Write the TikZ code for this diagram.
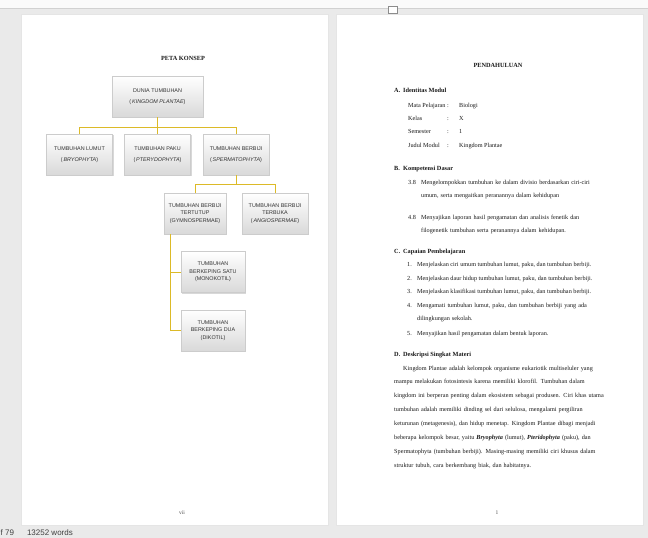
\documentclass[tikz,border=0pt]{standalone}
\usepackage{fontspec}
\setmainfont{Liberation Serif}
\newfontfamily\boxfont{Liberation Sans}
\usepackage{tikz}
\usetikzlibrary{positioning}
\usetikzlibrary{shadows}
\definecolor{linegold}{RGB}{220,186,40}
\definecolor{winbg}{RGB}{234,234,234}
\definecolor{boxtext}{RGB}{50,50,50}
\tikzstyle{konsep} = [rectangle, text centered, align=center, minimum width=66pt, minimum height=41pt, inner sep=1pt, draw=black!20, top color=white, bottom color=black!15, drop shadow={shadow xshift=1pt, shadow yshift=-1.2pt, opacity=0.3}, text=boxtext, font=\boxfont\fontsize{5.4}{7.5}\selectfont]
\tikzstyle{konsep_lebar} = [konsep, minimum width=91pt]
\tikzstyle{link} = [draw=linegold, line width=0.9pt]
\tikzstyle{teks} = [anchor=base west, inner sep=0pt, text=black!90, font=\fontsize{6.2}{13.9}\selectfont]
\tikzstyle{judul} = [anchor=base, inner sep=0pt, text=black!90, font=\bfseries\fontsize{6.3}{7}\selectfont]
\newcommand{\baris}[2][206pt]{\makebox[#1][s]{#2}}

\begin{document}
\begin{tikzpicture}[x=1pt, y=-1pt]
    \useasboundingbox (0,0) rectangle (648,538);
    \fill[winbg] (0,0) rectangle (648,538);
    \fill[black!2] (0,0) rectangle (648,8);
    \draw[black!18] (0,8) -- (648,8);
    \fill[white, draw=black!10] (21,14) rectangle (328,525);
    \fill[white, draw=black!10] (336,14) rectangle (643,525);
    \draw[black!45, fill=white] (388,6) rectangle (397,13);

    \node (peta) [judul] at (183,60) {PETA KONSEP};
    \node (dunia) [konsep_lebar] at (157.5,96.5) {DUNIA TUMBUHAN\\[3pt](\,\textit{KINGDOM PLANTAE})};
    \node (lumut) [konsep] at (79.5,154.5) {TUMBUHAN LUMUT\\[3pt](\,\textit{BRYOPHYTA})};
    \node (paku) [konsep] at (157.5,154.5) {TUMBUHAN PAKU\\[3pt](\,\textit{PTERYDOPHYTA})};
    \node (berbiji) [konsep] at (236,154.5) {TUMBUHAN BERBIJI\\[3pt](\,\textit{SPERMATOPHYTA})};
    \node (tertutup) [konsep, minimum width=62pt] at (195,213.5) {TUMBUHAN BERBIJI\\TERTUTUP\\(GYMNOSPERMAE)};
    \node (terbuka) [konsep] at (275,213.5) {TUMBUHAN BERBIJI\\TERBUKA\\(\,\textit{ANGIOSPERMAE})};
    \node (monokotil) [konsep, minimum width=64pt] at (213,272) {TUMBUHAN\\BERKEPING SATU\\(MONOKOTIL)};
    \node (dikotil) [konsep, minimum width=64pt] at (213,330.5) {TUMBUHAN\\BERKEPING DUA\\(DIKOTIL)};
    \draw[link] (dunia.south) -- ++(0,10) -| (lumut.north);
    \draw[link] (dunia.south) -- (paku.north);
    \draw[link] (dunia.south) -- ++(0,10) -| (berbiji.north);
    \draw[link] (berbiji.south) -- ++(0,9) -| (tertutup.north);
    \draw[link] (berbiji.south) -- ++(0,9) -| (terbuka.north);
    \draw[link] ([xshift=7pt]tertutup.south west) |- (monokotil.west);
    \draw[link] ([xshift=7pt]tertutup.south west) |- (dikotil.west);
    \node (vii) [anchor=base, inner sep=0pt, text=black!70, font=\fontsize{5.5}{6}\selectfont] at (182,514) {vii};

    \node (pendahuluan) [judul] at (498,67) {PENDAHULUAN};
    \node (identitas) [teks, font=\bfseries\fontsize{6.3}{7}\selectfont] at (394,92) {\makebox[9pt][l]{A.}Identitas Modul};
    \node (modul) [teks] at (408,107) {\fontsize{6.2}{13.4}\selectfont\begin{tabular}[t]{@{}p{39pt}@{}p{12pt}@{}l@{}}
        Mata Pelajaran & : & Biologi\\
        Kelas & : & X\\
        Semester & : & 1\\
        Judul Modul & : & Kingdom Plantae
    \end{tabular}};
    \node (kompetensi) [teks, font=\bfseries\fontsize{6.3}{7}\selectfont] at (394,170) {\makebox[9pt][l]{B.}Kompetensi Dasar};
    \node (kd38n) [teks] at (408,184) {3.8};
    \node (kd38) [teks, text width=182pt, align=left] at (421,184) {\baris[182pt]{Mengelompokkan tumbuhan ke dalam divisio berdasarkan ciri-ciri}\\umum, serta mengaitkan peranannya dalam kehidupan};
    \node (kd48n) [teks] at (408,219) {4.8};
    \node (kd48) [teks, text width=182pt, align=left] at (421,219) {\baris[182pt]{Menyajikan laporan hasil pengamatan dan analisis fenetik dan}\\filogenetik tumbuhan serta peranannya dalam kehidupan.};
    \node (capaian) [teks, font=\bfseries\fontsize{6.3}{7}\selectfont] at (394,253) {\makebox[9pt][l]{C.}Capaian Pembelajaran};
    \node (cp1n) [teks] at (407,266) {1.};
    \node (cp1) [teks] at (417,266) {Menjelaskan ciri umum tumbuhan lumut, paku, dan tumbuhan berbiji.};
    \node (cp2n) [teks] at (407,280) {2.};
    \node (cp2) [teks] at (417,280) {Menjelaskan daur hidup tumbuhan lumut, paku, dan tumbuhan berbiji.};
    \node (cp3n) [teks] at (407,293.5) {3.};
    \node (cp3) [teks] at (417,293.5) {Menjelaskan klasifikasi tumbuhan lumut, paku, dan tumbuhan berbiji.};
    \node (cp4n) [teks] at (407,307) {4.};
    \node (cp4) [teks, text width=183pt, align=left] at (417,307) {\fontsize{6.2}{13.5}\selectfont\baris[183pt]{Mengamati tumbuhan lumut, paku, dan tumbuhan berbiji yang ada}\\dilingkungan sekolah.};
    \node (cp5n) [teks] at (407,335) {5.};
    \node (cp5) [teks] at (417,335) {Menyajikan hasil pengamatan dalam bentuk laporan.};
    \node (deskripsi) [teks, font=\bfseries\fontsize{6.3}{7}\selectfont] at (394,356) {\makebox[9pt][l]{D.}Deskripsi Singkat Materi};
    \node (materi) [teks, text width=206pt, align=left] at (394,370) {\hspace*{9pt}\baris[197pt]{Kingdom Plantae adalah kelompok organisme eukariotik multiseluler yang}\\
        \baris{mampu melakukan fotosintesis karena memiliki klorofil. Tumbuhan dalam}\\
        \baris{kingdom ini berperan penting dalam ekosistem sebagai produsen. Ciri khas utama}\\
        \baris{tumbuhan adalah memiliki dinding sel dari selulosa, mengalami pergiliran}\\
        \baris{keturunan (metagenesis), dan hidup menetap. Kingdom Plantae dibagi menjadi}\\
        \baris{beberapa kelompok besar, yaitu \textbf{\textit{Bryophyta}} (lumut), \textbf{\textit{Pteridophyta}} (paku), dan}\\
        \baris{Spermatophyta (tumbuhan berbiji). Masing-masing memiliki ciri khusus dalam}\\
        struktur tubuh, cara berkembang biak, dan habitatnya.};
    \node (satu) [anchor=base, inner sep=0pt, text=black!70, font=\fontsize{5.5}{6}\selectfont] at (497,514) {1};

    \node (status) [anchor=base west, inner sep=0pt, text=black!75, font=\boxfont\fontsize{8}{9}\selectfont] at (0.5,535.5) {f 79\hspace{13pt}13252 words};
\end{tikzpicture}
\end{document}
